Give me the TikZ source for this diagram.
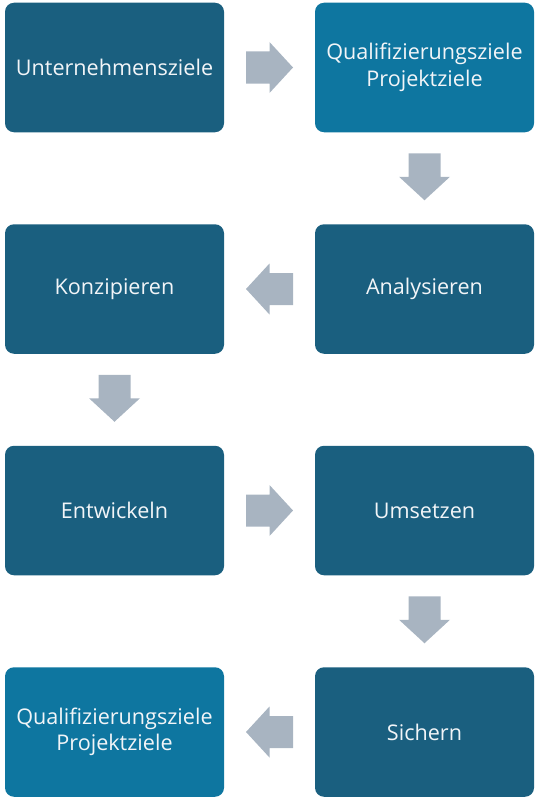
\documentclass[tikz,border=0pt]{standalone}
\usepackage{fontspec}
\setmainfont{Open Sans}
\usetikzlibrary{calc}
\definecolor{boxdark}{HTML}{1A5F7F}
\definecolor{boxlight}{HTML}{0E76A0}
\definecolor{arrowgray}{HTML}{A8B4C1}
\definecolor{txt}{HTML}{F2F5F8}
\tikzset{
  stepbox/.style={rectangle, rounded corners=9pt, fill=boxdark, draw=none,
    minimum width=219pt, minimum height=129.5pt, inner sep=0pt,
    text=txt, align=center, font=\fontsize{21.6}{26.5}\selectfont},
  goalbox/.style={stepbox, fill=boxlight},
  blockarrow/.pic={\fill[arrowgray] (-23.5pt,-16pt) -- (0pt,-16pt) -- (0pt,-25.5pt) -- (23.5pt,0pt) -- (0pt,25.5pt) -- (0pt,16pt) -- (-23.5pt,16pt) -- cycle;}
}
\begin{document}
\begin{tikzpicture}[x=1pt,y=-1pt]
\useasboundingbox (0,0) rectangle (539,800);
\node[stepbox] (u) at (114.5,67.5) {Unternehmensziele};
\node[goalbox] (q1) at (424.5,67.5) {Qualifizierungsziele\\Projektziele};
\node[stepbox] (an) at (424.5,289) {Analysieren};
\node[stepbox] (ko) at (114.5,289) {Konzipieren};
\node[stepbox] (en) at (114.5,510.5) {Entwickeln};
\node[stepbox] (um) at (424.5,510.5) {Umsetzen};
\node[stepbox] (si) at (424.5,732) {Sichern};
\node[goalbox] (q2) at (114.5,732) {Qualifizierungsziele\\Projektziele};
\pic at ($(u.east)!0.5!(q1.west)$) {blockarrow};
\pic[rotate=-90] at ($(q1.south)!0.5!(an.north)+(0,-1.5)$) {blockarrow};
\pic[rotate=180] at ($(an.west)!0.5!(ko.east)$) {blockarrow};
\pic[rotate=-90] at ($(ko.south)!0.5!(en.north)+(0,-1.5)$) {blockarrow};
\pic at ($(en.east)!0.5!(um.west)$) {blockarrow};
\pic[rotate=-90] at ($(um.south)!0.5!(si.north)+(0,-1.5)$) {blockarrow};
\pic[rotate=180] at ($(si.west)!0.5!(q2.east)$) {blockarrow};
\end{tikzpicture}
\end{document}
